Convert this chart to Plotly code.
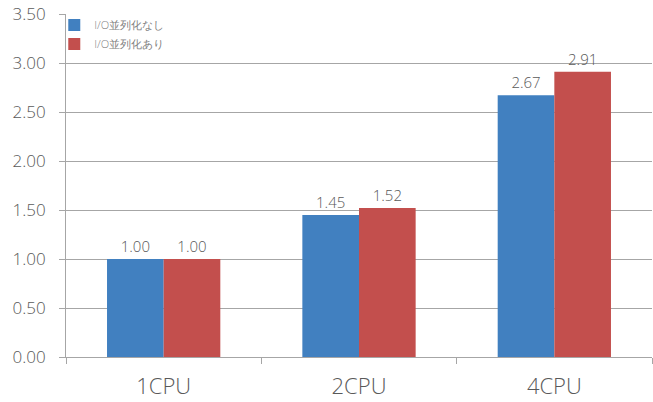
import plotly.graph_objects as go

categories = ["1CPU", "2CPU", "4CPU"]
series_names = ["I/O並列化なし", "I/O並列化あり"]
values_no = [1.00, 1.45, 2.67]
values_yes = [1.00, 1.52, 2.91]
y_ticks = [0, 0.5, 1.0, 1.5, 2.0, 2.5, 3.0, 3.5]
y_tick_labels = ["0.00", "0.50", "1.00", "1.50", "2.00", "2.50", "3.00", "3.50"]

font_family = "Open Sans, Lato, sans-serif"
gray = "#595959"

fig = go.Figure()
fig.add_trace(go.Bar(
    x=categories, y=values_no, name=series_names[0],
    marker=dict(color="#4180c0", line=dict(width=0)),
    text=[f"{v:.2f}" for v in values_no], textposition="outside",
    textfont=dict(size=15, color=gray, family=font_family, weight=300),
    cliponaxis=False,
))
fig.add_trace(go.Bar(
    x=categories, y=values_yes, name=series_names[1],
    marker=dict(color="#c34f4d", line=dict(width=0)),
    text=[f"{v:.2f}" for v in values_yes], textposition="outside",
    textfont=dict(size=15, color=gray, family=font_family, weight=300),
    cliponaxis=False,
))

fig.update_layout(
    width=653, height=402,
    margin=dict(l=66, r=1, t=14, b=45),
    paper_bgcolor="white", plot_bgcolor="white",
    barmode="group", bargap=0.42, bargroupgap=0,
    font=dict(family=font_family, color=gray),
    legend=dict(
        x=-0.02, y=1.01, xanchor="left", yanchor="top",
        font=dict(size=11, color="#7f7f7f", family=font_family, weight=300),
        bgcolor="rgba(0,0,0,0)", itemwidth=30, tracegroupgap=0,
    ),
    xaxis=dict(
        automargin=False,
        showline=True, linecolor="#a6a6a6", linewidth=1,
        ticks="outside", ticklen=6, tickcolor="#a6a6a6",
        tickson="boundaries",
        tickfont=dict(size=22, color=gray, family=font_family, weight=300),
        ticklabelstandoff=10,
        showgrid=False,
    ),
    yaxis=dict(
        automargin=False,
        range=[0, 3.5], tickvals=y_ticks, ticktext=y_tick_labels,
        showline=True, linecolor="#a6a6a6", linewidth=1,
        ticks="outside", ticklen=6, tickcolor="#a6a6a6",
        showgrid=True, gridcolor="#a6a6a6", gridwidth=1,
        tickfont=dict(size=17, color=gray, family=font_family, weight=300),
        ticklabelstandoff=10,
        zeroline=False,
    ),
)

fig.write_html("out.html", config={"displayModeBar": False},
               post_script="document.body.style.margin='0';")
